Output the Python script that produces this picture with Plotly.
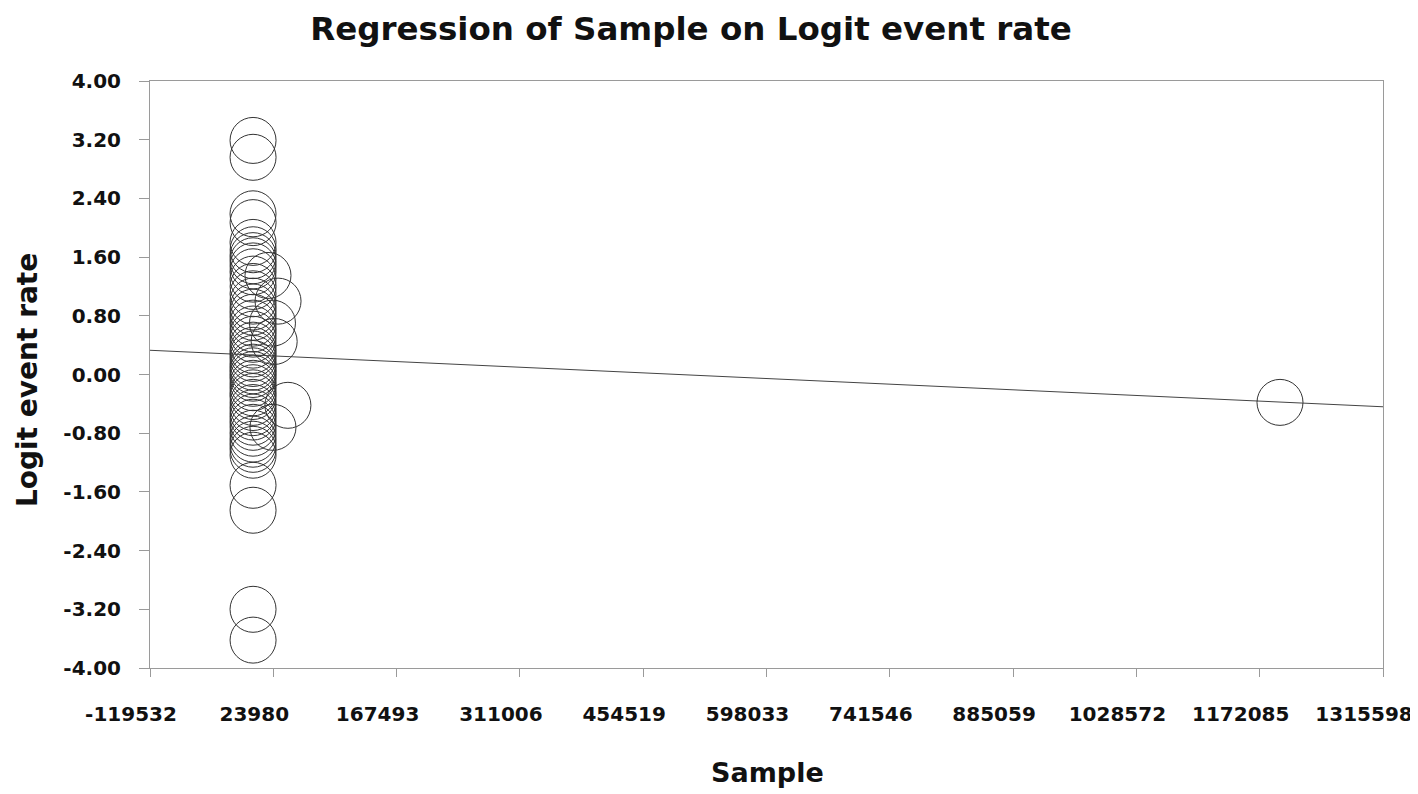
import plotly.graph_objects as go

# ---- data ----
sample = [400, 420, 380, 450, 400, 500, 380, 420, 460, 400, 390, 480, 420, 400,
          450, 380, 430, 400, 470, 410, 390, 440, 400, 420, 380, 460, 400, 430,
          410, 390, 450, 400, 420, 380, 470, 400, 430, 410, 390, 450, 400, 420,
          380, 440, 410, 400, 420, 400, 430,
          17800, 29500, 23000, 25000, 41000, 23600, 1195700]
logit_rate = [3.19, 2.96, 2.19, 2.07, 1.80, 1.70, 1.62, 1.55, 1.48, 1.40, 1.30,
              1.20, 1.10, 1.00, 0.92, 0.85, 0.78, 0.70, 0.62, 0.55, 0.48, 0.40,
              0.33, 0.28, 0.22, 0.15, 0.10, 0.05, 0.00, -0.05, -0.12, -0.18,
              -0.25, -0.30, -0.38, -0.45, -0.52, -0.58, -0.65, -0.72, -0.80,
              -0.88, -0.95, -1.02, -1.10, -1.51, -1.85, -3.20, -3.62,
              1.35, 1.00, 0.70, 0.45, -0.42, -0.72, -0.38]

reg_intercept = 0.266
reg_slope = -5.365e-7

x_ticks = [-119532, 23980, 167493, 311006, 454519, 598033, 741546, 885059,
           1028572, 1172085, 1315598]
x_tick_text = ["-119532", "23980", "167493", "311006", "454519", "598033",
               "741546", "885059", "1028572", "1172085", "1315598"]
y_ticks = [-4.0, -3.2, -2.4, -1.6, -0.8, 0.0, 0.8, 1.6, 2.4, 3.2, 4.0]
y_tick_text = ["-4.00", "-3.20", "-2.40", "-1.60", "-0.80", "0.00", "0.80",
               "1.60", "2.40", "3.20", "4.00"]

x_range = [x_ticks[0], x_ticks[-1]]
y_range = [y_ticks[0], y_ticks[-1]]

FONT = "DejaVu Sans"
W, H = 1410, 786  # page body has an 8px margin

fig = go.Figure()
fig.add_trace(go.Scatter(
    x=x_range,
    y=[reg_intercept + reg_slope * v for v in x_range],
    mode="lines",
    line=dict(color="#444444", width=1),
    hoverinfo="skip",
    showlegend=False,
))
fig.add_trace(go.Scatter(
    x=sample, y=logit_rate,
    mode="markers",
    marker=dict(symbol="circle-open", size=46, color="#333333",
                line=dict(width=1, color="#333333")),
    showlegend=False,
))

axis_common = dict(
    showgrid=False, zeroline=False, showline=True, linecolor="#9a9a9a",
    linewidth=1, mirror=True, ticks="outside", tickcolor="#9a9a9a",
    automargin=False,
    tickfont=dict(family=FONT, size=20, color="#111111", weight="bold"),
)

fig.update_xaxes(range=x_range, tickvals=x_ticks, ticktext=x_tick_text,
                 ticklen=8, ticklabelstandoff=20, ticklabelshift=-19,
                 ticklabeloverflow="allow", **axis_common)
fig.update_yaxes(range=y_range, tickvals=y_ticks, ticktext=y_tick_text,
                 ticklen=10, ticklabelstandoff=14, **axis_common)

fig.update_layout(
    width=W, height=H,
    margin=dict(l=142, r=35, t=73, b=126),
    paper_bgcolor="white", plot_bgcolor="white",
    title=dict(text="<b>Regression of Sample on Logit event rate</b>",
               x=(691 - 8) / W, xanchor="center",
               y=1 - 21 / H, yref="container", yanchor="middle",
               font=dict(family=FONT, size=32.5, color="#111111")),
    annotations=[
        dict(text="<b>Sample</b>", xref="paper", yref="paper",
             x=(767 - 150) / 1233, y=-(772 - 668) / 587, xanchor="center",
             yanchor="middle", showarrow=False,
             font=dict(family=FONT, size=27, color="#111111")),
        dict(text="<b>Logit event rate</b>", xref="paper", yref="paper",
             x=-(150 - 27) / 1233, y=(668 - 380) / 587, xanchor="center",
             yanchor="middle", textangle=-90, showarrow=False,
             font=dict(family=FONT, size=28, color="#111111")),
    ],
)

fig.write_html("out.html")
